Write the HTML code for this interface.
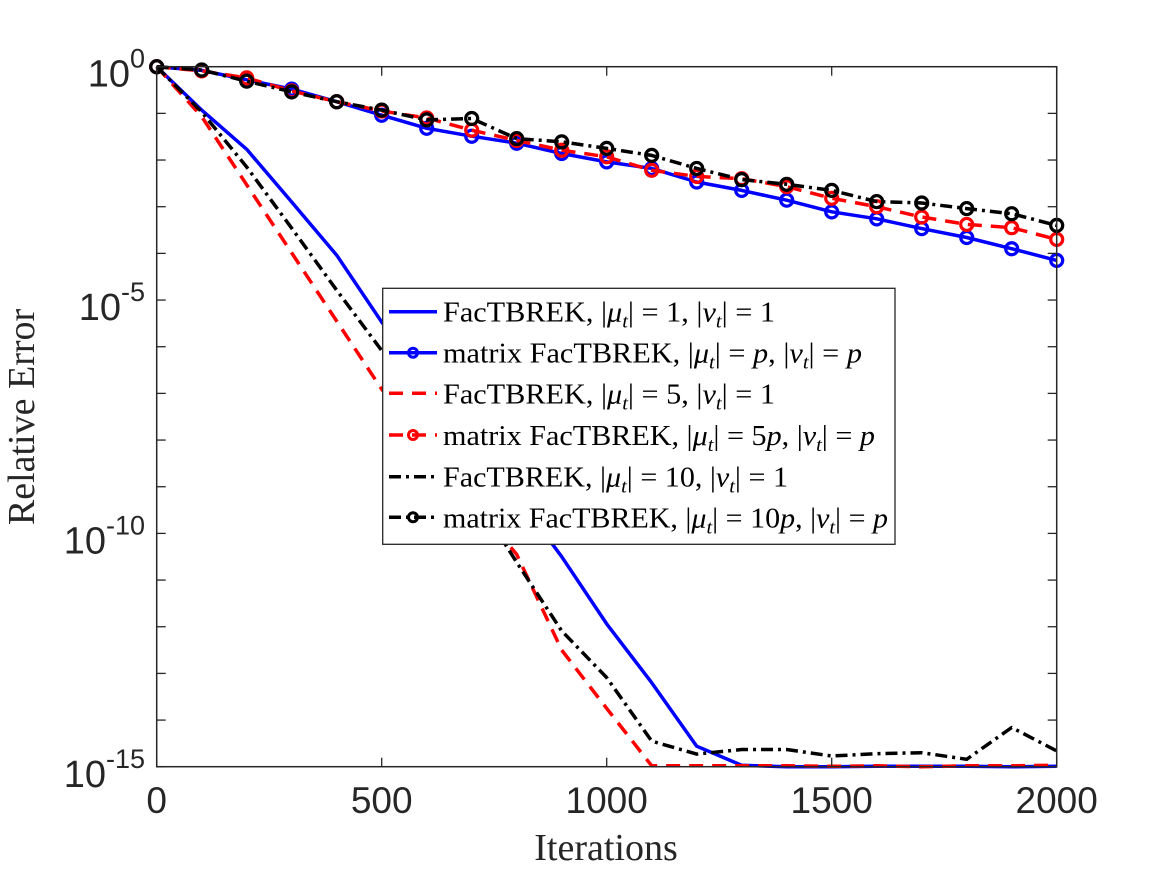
<!DOCTYPE html>
<html><head><meta charset="utf-8"><style>
html,body{margin:0;padding:0;background:#fff;}
svg{display:block;}
.tk{font-family:"Liberation Sans",Arial,sans-serif;fill:#262626;}
.lg{font-family:"Liberation Serif",serif;font-size:28px;fill:#000;}
.ttl{font-family:"Liberation Serif",serif;font-size:38px;fill:#262626;}
</style></head><body>
<svg id="chart" width="1167" height="875" viewBox="0 0 1167 875" xmlns="http://www.w3.org/2000/svg">
<rect x="0" y="0" width="1167" height="875" fill="#fff"/>
<g id="plot"></g>
<g id="axes"></g>
<text class="ttl" x="606" y="860" text-anchor="middle">Iterations</text>
<text class="ttl" transform="translate(34,417) rotate(-90)" text-anchor="middle">Relative Error</text>
<g id="legend"></g>
</svg>
<script>
const iters = [0,100,200,300,400,500,600,700,800,900,1000,1100,1200,1300,1400,1500,1600,1700,1800,1900,2000];
// log10 of relative error
const facMu1 = [0,-0.93,-1.77,-2.9,-4.04,-5.47,-6.7,-7.9,-9.2,-10.5,-11.94,-13.2,-14.56,-14.97,-15.0,-15.0,-14.99,-14.99,-14.99,-15.0,-14.99];
const matMu1 = [0,-0.08,-0.28,-0.48,-0.75,-1.04,-1.32,-1.49,-1.64,-1.86,-2.04,-2.18,-2.47,-2.65,-2.86,-3.11,-3.26,-3.47,-3.66,-3.9,-4.15];
const facMu5 = [0,-1.07,-2.53,-3.99,-5.45,-6.91,-8.1,-9.3,-10.45,-12.5,-13.75,-14.98,-14.98,-14.98,-14.98,-14.99,-14.98,-15.0,-14.98,-14.98,-14.97];
const matMu5 = [0,-0.09,-0.24,-0.52,-0.75,-0.95,-1.1,-1.36,-1.58,-1.79,-1.93,-2.22,-2.35,-2.4,-2.57,-2.82,-3.0,-3.22,-3.38,-3.45,-3.7];
const facMu10 = [0,-0.97,-2.15,-3.46,-4.79,-6.08,-7.6,-9.1,-10.62,-12.09,-13.09,-14.45,-14.73,-14.63,-14.63,-14.77,-14.72,-14.7,-14.84,-14.16,-14.66];
const matMu10 = [0,-0.07,-0.31,-0.54,-0.75,-0.93,-1.14,-1.11,-1.54,-1.61,-1.75,-1.9,-2.18,-2.42,-2.52,-2.65,-2.89,-2.92,-3.04,-3.15,-3.4];
const xTicks = [0,500,1000,1500,2000];
const xTickLabels = ["0","500","1000","1500","2000"];
const yDecades = [0,-1,-2,-3,-4,-5,-6,-7,-8,-9,-10,-11,-12,-13,-14,-15];
const yLabelExps = [0,-5,-10,-15];
const legendLabels = ["FacTBREK, ","matrix FacTBREK, ","FacTBREK, ","matrix FacTBREK, ","FacTBREK, ","matrix FacTBREK, "];
const legendMuNum = ["1","","5","5","10","10"];
const legendMuP = [false,true,false,true,false,true];
const legendNu = ["1","p","1","p","1","p"];

const NS="http://www.w3.org/2000/svg";
const L=156.7,R=1056.7,T=66.7,B=766.7;
const xS=v=>L+(v-0)/2000*(R-L);
const yS=e=>T+(0-e)*46.67;
function mk(tag,attrs,parent){const el=document.createElementNS(NS,tag);for(const k in attrs)el.setAttribute(k,attrs[k]);parent.appendChild(el);return el;}
const plot=document.getElementById('plot'),axes=document.getElementById('axes'),legend=document.getElementById('legend');

const series=[
 {d:facMu1,c:"#0000ff",dash:"",m:false,n:"series-factbrek-mu1"},
 {d:matMu1,c:"#0000ff",dash:"",m:true,n:"series-matrix-mu-p"},
 {d:facMu5,c:"#ff0000",dash:"14 9",m:false,n:"series-factbrek-mu5"},
 {d:matMu5,c:"#ff0000",dash:"14 9",m:true,n:"series-matrix-mu-5p"},
 {d:facMu10,c:"#000000",dash:"12 5 3 5",m:false,n:"series-factbrek-mu10"},
 {d:matMu10,c:"#000000",dash:"12 5 3 5",m:true,n:"series-matrix-mu-10p"}
];
series.forEach(s=>{
  const g=mk('g',{},plot);
  
  
  const pts=iters.map((x,i)=>xS(x).toFixed(1)+","+yS(s.d[i]).toFixed(1)).join(" ");
  const pl=mk('polyline',{points:pts,fill:"none",stroke:s.c,"stroke-width":3.5,"stroke-dasharray":s.dash,"stroke-linejoin":"round"},g);
  
  
  if(s.m){iters.forEach((x,i)=>{
    const c=mk('circle',{cx:xS(x),cy:yS(s.d[i]),r:6,fill:"none",stroke:s.c,"stroke-width":3.2},g);
    
    
  });}
});

const box=mk('rect',{x:L,y:T,width:R-L,height:B-T,fill:"none",stroke:"#262626","stroke-width":1.5},axes);


xTicks.forEach((v,i)=>{
  const x=xS(v);
  mk('line',{x1:x,y1:B,x2:x,y2:B-9,stroke:"#262626","stroke-width":1.3},axes);
  mk('line',{x1:x,y1:T,x2:x,y2:T+9,stroke:"#262626","stroke-width":1.3},axes);
  const t=mk('text',{x:x,y:813,"text-anchor":"middle","font-size":37,class:"tk"},axes);
  t.textContent=xTickLabels[i];
  
  
});
yDecades.forEach(e=>{
  const y=yS(e);
  mk('line',{x1:L,y1:y,x2:L+9,y2:y,stroke:"#262626","stroke-width":1.3},axes);
  mk('line',{x1:R,y1:y,x2:R-9,y2:y,stroke:"#262626","stroke-width":1.3},axes);
});
yLabelExps.forEach(e=>{
  const y=yS(e);
  const t=mk('text',{x:145,y:y+20,"text-anchor":"end",class:"tk","font-size":38},axes);
  
  
  const a=mk('tspan',{},t);a.textContent="10";
  const b=mk('tspan',{"font-size":27,dy:-19},t);b.textContent=String(e);
});

const lb=mk('rect',{x:382.7,y:288.3,width:512.3,height:256,fill:"#fff",stroke:"#262626","stroke-width":1.3},legend);


const rowY=[311.7,352.7,393.3,435,476.7,517.3];
const rowEnd=[775,862,775,875,788,888];
series.forEach((s,i)=>{
  const y=rowY[i];
  const g=mk('g',{},legend);
  
  
  mk('line',{x1:389,y1:y,x2:437,y2:y,stroke:s.c,"stroke-width":3.5,"stroke-dasharray":s.dash},g);
  if(s.m) mk('circle',{cx:413,cy:y,r:4.5,fill:"none",stroke:s.c,"stroke-width":3},g);
  const t=mk('text',{x:443,y:y+10,class:"lg",textLength:rowEnd[i]-443,lengthAdjust:"spacingAndGlyphs"},g);
  const add=(txt,opt)=>{const sp=mk('tspan',opt||{},t);sp.textContent=txt;return sp;};
  add(legendLabels[i]+"|");
  add("μ",{"font-style":"italic"});
  add("t",{"font-style":"italic","font-size":19,dy:6});
  add("| = "+legendMuNum[i],{dy:-6});
  if(legendMuP[i]) add("p",{"font-style":"italic"});
  add(", |");
  add("ν",{"font-style":"italic"});
  add("t",{"font-style":"italic","font-size":19,dy:6});
  add("| = ",{dy:-6});
  if(legendNu[i]==="p") add("p",{"font-style":"italic"}); else add(legendNu[i]);
});
</script>
</body></html>
